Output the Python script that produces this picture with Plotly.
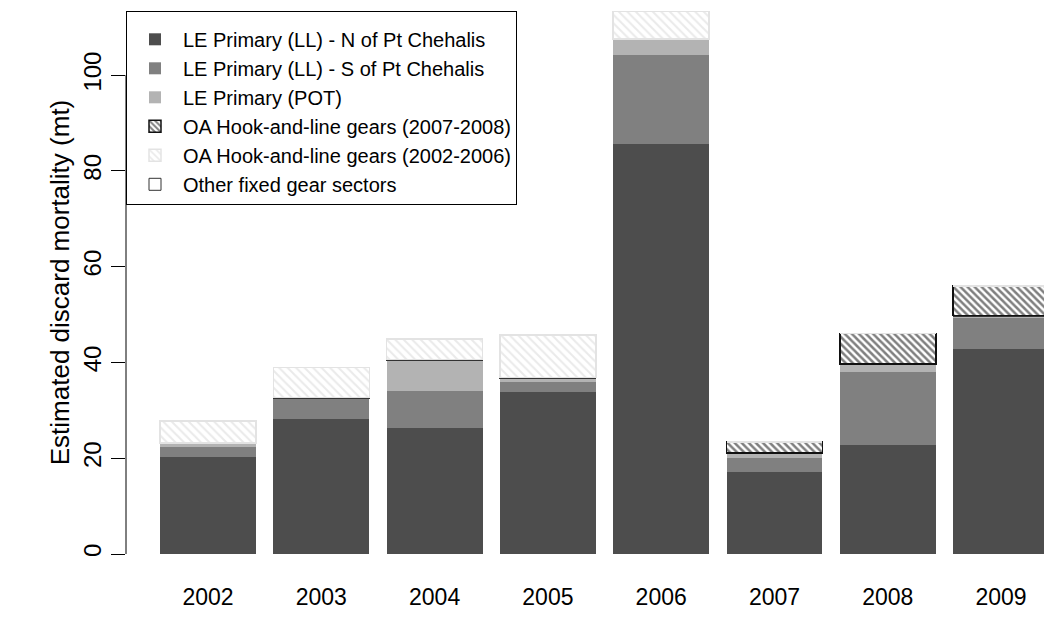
import plotly.graph_objects as go

# Estimated discard mortality (mt) by year and sector
years = [2002, 2003, 2004, 2005, 2006, 2007, 2008, 2009]
le_ll_north = [20.3, 28.1, 26.3, 33.8, 85.7, 17.1, 22.8, 42.9]
le_ll_south = [2.1, 4.3, 7.7, 2.2, 18.5, 3.0, 15.3, 6.4]
le_pot = [0.6, 0.1, 6.4, 0.7, 3.2, 0.9, 1.4, 0.4]
other_fixed = [0.2, 0.2, 0.2, 0.2, 0.2, 0.1, 0.2, 0.1]
oa_hl_0708 = [0, 0, 0, 0, 0, 2.3, 6.4, 6.2]
oa_hl_0206 = [4.6, 6.3, 4.3, 8.8, 5.8, 0, 0, 0]

y_ticks = [0, 20, 40, 60, 80, 100]
y_max = 113.4

FONT = "Liberation Sans, Arial, sans-serif"
BAR_W = 0.847

fig = go.Figure()


def add_solid(name, vals, color, rank):
    fig.add_trace(go.Bar(
        x=years, y=vals, name=name, width=BAR_W, legendrank=rank,
        marker=dict(color=color, line=dict(width=0)),
    ))


def add_hatch(name, vals, line_color, fg, rank, size, solidity):
    fig.add_trace(go.Bar(
        x=years, y=vals, name=name, width=BAR_W, legendrank=rank,
        marker=dict(
            color="white",
            line=dict(color=line_color, width=1.5),
            pattern=dict(shape="\\", fgcolor=fg, bgcolor="white",
                         size=size, solidity=solidity, fillmode="overlay"),
        ),
    ))


# stacking order (bottom to top); legendrank keeps the legend order
add_solid("LE Primary (LL) - N of Pt Chehalis", le_ll_north, "#4d4d4d", 1)
add_solid("LE Primary (LL) - S of Pt Chehalis", le_ll_south, "#808080", 2)
add_solid("LE Primary (POT)", le_pot, "#b3b3b3", 3)
fig.add_trace(go.Bar(
    x=years, y=other_fixed, name="Other fixed gear sectors", width=BAR_W,
    legendrank=6,
    marker=dict(color="white", line=dict(color="#333333", width=1)),
))
add_hatch("OA Hook-and-line gears (2007-2008)", oa_hl_0708, "#111111", "#000000", 4, 5, 0.5)
add_hatch("OA Hook-and-line gears (2002-2006)", oa_hl_0206, "#e3e3e3", "#d6d6d6", 5, 6, 0.35)

# y axis line spans only the labelled tick range
fig.add_shape(type="line", xref="paper", yref="y", x0=0, x1=0,
              y0=y_ticks[0], y1=y_ticks[-1], line=dict(color="black", width=1))

fig.update_layout(
    barmode="stack",
    width=1044, height=624,
    margin=dict(l=126, r=0, t=11, b=70),
    paper_bgcolor="white", plot_bgcolor="white",
    font=dict(family=FONT, size=20, color="black"),
    showlegend=True,
    legend=dict(
        x=0, y=1, xanchor="left", yanchor="top",
        bgcolor="white", bordercolor="black", borderwidth=1,
        font=dict(family=FONT, size=20, color="black"),
        title=dict(text=" ", font=dict(size=6)),
        traceorder="normal", itemwidth=46,
    ),
    xaxis=dict(
        range=[2001.276, 2009.379],
        tickmode="array", tickvals=years, ticktext=[str(y) for y in years],
        showline=False, showgrid=False, zeroline=False,
        ticks="outside", ticklen=22, tickcolor="rgba(0,0,0,0)",
        tickfont=dict(family=FONT, size=23),
    ),
    yaxis=dict(
        range=[0, y_max],
        tickmode="array", tickvals=y_ticks,
        showline=False, showgrid=False, zeroline=False,
        ticks="outside", ticklen=14, tickwidth=1, tickcolor="black",
        tickangle=-90,
        tickfont=dict(family=FONT, size=24),
        title=dict(text="Estimated discard mortality (mt)",
                   font=dict(family=FONT, size=26), standoff=2),
    ),
)

fig.write_html("out.html")
